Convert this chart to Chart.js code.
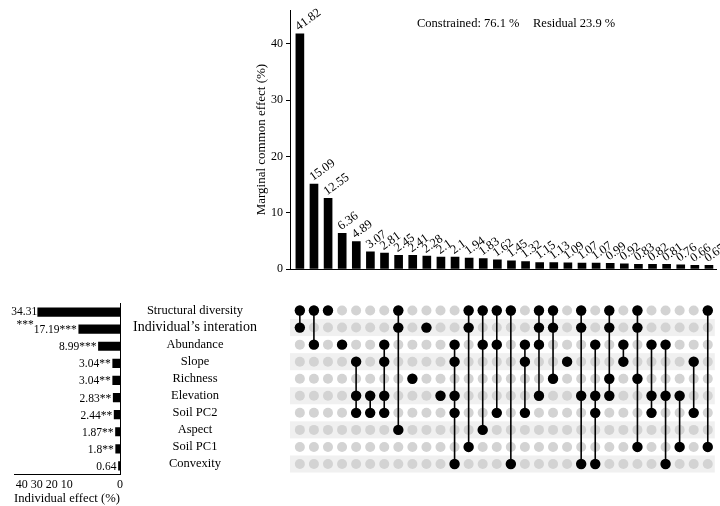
<!DOCTYPE html>
<html>
<head>
<meta charset="utf-8">
<script src="https://cdn.jsdelivr.net/npm/chart.js@4.4.1/dist/chart.umd.min.js"></script>
<style>
  html, body { margin: 0; padding: 0; background: #fff; }
  #wrap { position: relative; width: 720px; height: 506px; overflow: hidden; }
  canvas { position: absolute; }
</style>
</head>
<body>
<div id="wrap">
  <canvas id="topChart" width="470" height="290" style="left:250px;top:0px;"></canvas>
  <canvas id="indivChart" width="130" height="216" style="left:0px;top:290px;"></canvas>
  <canvas id="matrixChart" width="590" height="190" style="left:130px;top:290px;"></canvas>
</div>
<script>
// ---- data ----
const factors = ['Structural diversity', 'Individual\u2019s interation', 'Abundance', 'Slope', 'Richness',
                 'Elevation', 'Soil PC2', 'Aspect', 'Soil PC1', 'Convexity'];
const individual = [34.31, 17.19, 8.99, 3.04, 3.04, 2.83, 2.44, 1.87, 1.8, 0.64];
const signif = ['***', '***', '***', '**', '**', '**', '**', '**', '**', ''];
// tick labels of the individual axis sit where the original figure put them
const indivTickLabels = ['40', '30', '20', '10', '0'];
const indivTickAt = [41.0, 34.7, 28.5, 22.2, 0];

const marginal = [41.82, 15.09, 12.55, 6.36, 4.89, 3.07, 2.81, 2.45, 2.41, 2.28, 2.1, 2.1, 1.94, 1.83, 1.62,
                  1.45, 1.32, 1.15, 1.13, 1.09, 1.07, 1.07, 0.99, 0.92, 0.83, 0.82, 0.81, 0.76, 0.66, 0.65];

// which factors take part in each marginal common effect (one entry per bar)
const combos = [
  ['Structural diversity', 'Individual\u2019s interation'],
  ['Structural diversity', 'Abundance'],
  ['Structural diversity'],
  ['Abundance'],
  ['Slope', 'Elevation', 'Soil PC2'],
  ['Elevation', 'Soil PC2'],
  ['Abundance', 'Slope', 'Elevation', 'Soil PC2'],
  ['Structural diversity', 'Individual\u2019s interation', 'Aspect'],
  ['Richness'],
  ['Individual\u2019s interation'],
  ['Elevation'],
  ['Abundance', 'Slope', 'Elevation', 'Soil PC2', 'Convexity'],
  ['Structural diversity', 'Individual\u2019s interation', 'Soil PC1'],
  ['Structural diversity', 'Abundance', 'Aspect'],
  ['Structural diversity', 'Abundance', 'Soil PC2'],
  ['Structural diversity', 'Convexity'],
  ['Abundance', 'Slope', 'Soil PC2'],
  ['Structural diversity', 'Individual\u2019s interation', 'Abundance', 'Elevation'],
  ['Structural diversity', 'Individual\u2019s interation', 'Richness'],
  ['Slope'],
  ['Structural diversity', 'Individual\u2019s interation', 'Elevation', 'Convexity'],
  ['Abundance', 'Elevation', 'Soil PC2', 'Convexity'],
  ['Structural diversity', 'Individual\u2019s interation', 'Richness', 'Elevation'],
  ['Abundance', 'Slope'],
  ['Structural diversity', 'Individual\u2019s interation', 'Richness', 'Soil PC1'],
  ['Abundance', 'Elevation', 'Soil PC2'],
  ['Abundance', 'Elevation', 'Convexity'],
  ['Elevation', 'Soil PC1'],
  ['Slope', 'Soil PC2'],
  ['Structural diversity', 'Soil PC1']
];

const constrained = 76.1;
const residual = 23.9;

Chart.defaults.font.family = "'Liberation Serif', 'DejaVu Serif', serif";
Chart.defaults.color = '#000';

const SERIF = "'Liberation Serif', 'DejaVu Serif', serif";

// ---- top: marginal common effects ----
const topLabels = {
  id: 'topLabels',
  afterDatasetsDraw(chart) {
    const ctx = chart.ctx;
    const meta = chart.getDatasetMeta(0);
    ctx.save();
    ctx.fillStyle = '#000';
    ctx.font = '12.5px ' + SERIF;
    ctx.textAlign = 'left';
    ctx.textBaseline = 'alphabetic';
    meta.data.forEach((bar, i) => {
      ctx.save();
      ctx.translate(bar.x - 1, bar.y - 3);
      ctx.rotate(-36 * Math.PI / 180);
      ctx.fillText(String(marginal[i]), 0, 0);
      ctx.restore();
    });
    ctx.font = '12.5px ' + SERIF;
    ctx.fillText('Constrained: ' + constrained + ' %', 167, 27);
    ctx.fillText('Residual ' + residual + ' %', 283, 27);
    ctx.restore();
  }
};

new Chart(document.getElementById('topChart'), {
  type: 'bar',
  data: {
    datasets: [{
      data: marginal.map((v, i) => ({x: i, y: v})),
      backgroundColor: '#000',
      barThickness: 8
    }]
  },
  options: {
    responsive: false,
    animation: false,
    layout: {padding: {top: 9, right: 4, left: 0, bottom: 0}},
    plugins: {legend: {display: false}, tooltip: {enabled: false}},
    scales: {
      x: {
        type: 'linear', min: -0.7, max: 29.5, offset: false,
        grid: {display: false, offset: false},
        ticks: {display: false},
        border: {color: '#000', width: 1},
        afterFit: s => { s.height = 21; }
      },
      y: {
        min: 0, max: 46,
        afterBuildTicks: s => { s.ticks = s.ticks.filter(t => t.value % 10 === 0); },
        ticks: {stepSize: 10, font: {size: 12}, color: '#000', padding: 3},
        grid: {drawOnChartArea: false, tickLength: 4, color: '#000'},
        border: {color: '#000', width: 1},
        title: {display: true, text: 'Marginal common effect (%)', font: {size: 13}, color: '#000',
                padding: {top: 4, bottom: 0}},
        afterFit: s => { s.width = 40; }
      }
    }
  },
  plugins: [topLabels]
});

// ---- left: individual effects ----
const indivLabels = {
  id: 'indivLabels',
  afterDatasetsDraw(chart) {
    const ctx = chart.ctx;
    const meta = chart.getDatasetMeta(0);
    ctx.save();
    ctx.fillStyle = '#000';
    ctx.font = '11.5px ' + SERIF;
    ctx.textAlign = 'right';
    ctx.textBaseline = 'middle';
    meta.data.forEach((bar, i) => {
      if (i === 0) {
        // first label is too long, stars drop under it like in the figure
        ctx.fillText(String(individual[i]), bar.x - 0.5, bar.y);
        ctx.fillText(signif[i], bar.x - 4, bar.y + 13);
      } else {
        ctx.fillText(individual[i] + signif[i], bar.x - 2, bar.y + 1);
      }
    });
    ctx.restore();
  }
};

new Chart(document.getElementById('indivChart'), {
  type: 'bar',
  data: {
    labels: factors,
    datasets: [{data: individual, backgroundColor: '#000', barThickness: 8.5}]
  },
  options: {
    indexAxis: 'y',
    responsive: false,
    animation: false,
    layout: {padding: {left: 14, top: 13.5, right: 0, bottom: 0}},
    plugins: {legend: {display: false}, tooltip: {enabled: false}},
    scales: {
      x: {
        min: 0, max: 44.2, reverse: true,
        grid: {display: false, drawTicks: false},
        border: {color: '#000', width: 1},
        afterBuildTicks: s => { s.ticks = indivTickAt.map(v => ({value: v})); },
        ticks: {autoSkip: false, maxRotation: 0, padding: 3, font: {size: 12}, color: '#000',
                callback: (v, i) => indivTickLabels[i]},
        title: {display: true, text: 'Individual effect (%)', font: {size: 13}, color: '#000',
                padding: {top: 0, bottom: 0}},
        afterFit: s => { s.height = 31.5; }
      },
      y: {
        position: 'right',
        grid: {display: false, drawTicks: false},
        ticks: {display: false},
        border: {color: '#000', width: 1},
        afterFit: s => { s.width = 10; }
      }
    }
  },
  plugins: [indivLabels]
});

// ---- matrix of combinations ----
const stripes = {
  id: 'stripes',
  beforeDatasetsDraw(chart) {
    const {ctx, chartArea, scales: {y}} = chart;
    const h = y.getPixelForValue(1) - y.getPixelForValue(0);
    ctx.save();
    ctx.fillStyle = '#f0f0f0';
    factors.forEach((f, i) => {
      if (i % 2 === 1) {
        const cy = y.getPixelForValue(i);
        ctx.fillRect(chartArea.left, cy - h / 2, chartArea.right - chartArea.left, h);
      }
    });
    ctx.restore();
  }
};

const grayPts = [];
combos.forEach((c, i) => factors.forEach(f => grayPts.push({x: i, y: f})));

const blackPts = [];
combos.forEach((c, i) => c.forEach(f => blackPts.push({x: i, y: f})));

const lineSets = [];
combos.forEach((c, i) => {
  if (c.length < 2) return;
  const idx = c.map(f => factors.indexOf(f));
  const top = factors[Math.min(...idx)];
  const bot = factors[Math.max(...idx)];
  lineSets.push({
    data: [{x: i, y: top}, {x: i, y: bot}],
    showLine: true,
    borderColor: '#000',
    borderWidth: 1.6,
    pointRadius: 0
  });
});

new Chart(document.getElementById('matrixChart'), {
  type: 'scatter',
  data: {
    datasets: [
      {data: blackPts, pointRadius: 5.2, pointBackgroundColor: '#000', pointBorderWidth: 0},
      ...lineSets,
      {data: grayPts, pointRadius: 5, pointBackgroundColor: '#d3d3d3', pointBorderWidth: 0}
    ]
  },
  options: {
    responsive: false,
    animation: false,
    layout: {padding: {top: 12, right: 4, bottom: 4.6, left: 0}},
    plugins: {legend: {display: false}, tooltip: {enabled: false}},
    scales: {
      x: {type: 'linear', min: -0.7, max: 29.5, display: false},
      y: {
        type: 'category', labels: factors, offset: true,
        // invisible tick marks push the centred labels away from the matrix
        grid: {display: false, drawTicks: true, tickLength: 33},
        border: {display: false},
        ticks: {
          crossAlign: 'center', padding: 0, color: '#000', autoSkip: false,
          font: ctx => ({size: ctx.index === 1 ? 14 : 12.5})
        },
        afterFit: s => { s.width = 160; }
      }
    }
  },
  plugins: [stripes]
});
</script>
</body>
</html>
